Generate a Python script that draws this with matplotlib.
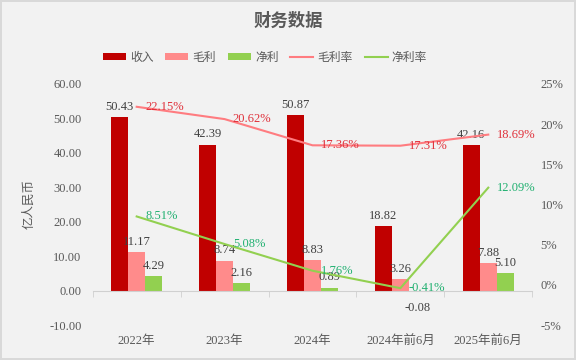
import matplotlib.pyplot as plt
import numpy as np

plt.rcParams['font.family'] = ['Liberation Serif', 'Noto Sans CJK SC']

# data
categories = ['2022年', '2023年', '2024年', '2024年前6月', '2025年前6月']
revenue = [50.43, 42.39, 50.87, 18.82, 42.16]
gross_profit = [11.17, 8.74, 8.83, 3.26, 7.88]
net_profit = [4.29, 2.16, 0.89, -0.08, 5.10]
gross_margin = [22.15, 20.62, 17.36, 17.31, 18.69]
net_margin = [8.51, 5.08, 1.76, -0.41, 12.09]

grey = '#595959'
c_rev = '#C00000'
c_gross = '#FF8B8B'
c_net = '#92D050'
c_gm = '#FF7C80'
c_nm = '#92D050'

fig = plt.figure(figsize=(5.76, 3.6), dpi=100)
fig.patch.set_facecolor('#F2F2F2')
fig.patch.set_edgecolor('#D9D9D9')
fig.patch.set_linewidth(1.5)

ax = fig.add_axes([0.161, 0.097, 0.763, 0.67])
ax.set_facecolor('#F2F2F2')
ax2 = ax.twinx()

x = np.arange(len(categories))
w = 0.195
b1 = ax.bar(x - w, revenue, w, color=c_rev, label='收入')
b2 = ax.bar(x, gross_profit, w, color=c_gross, label='毛利')
b3 = ax.bar(x + w, net_profit, w, color=c_net, label='净利')

for bars, vals in [(b1, revenue), (b2, gross_profit), (b3, net_profit)]:
    for rect, v in zip(bars, vals):
        cx = rect.get_x() + rect.get_width() / 2
        if v >= 0:
            ax.annotate(f'{v:.2f}', (cx, v), xytext=(0, 3), textcoords='offset points',
                        ha='center', va='bottom', fontsize=9, color='#404040')
        else:
            ax.annotate(f'{v:.2f}', (cx, v), xytext=(0, -8), textcoords='offset points',
                        ha='center', va='top', fontsize=9, color='#404040')

ax.set_xlim(-0.5, len(categories) - 0.5)
ax.set_ylim(-10, 60)
ax.set_yticks(np.arange(-10, 61, 10))
ax.set_yticklabels([f'{v:.2f}' for v in np.arange(-10, 61, 10)])
ax.tick_params(axis='y', length=0, labelsize=9, labelcolor=grey, pad=8)
ax.set_ylabel('亿人民币', rotation=90, color=grey, fontsize=9, labelpad=10)

for s in ['top', 'right', 'left']:
    ax.spines[s].set_visible(False)
ax.spines['bottom'].set_position(('data', 0))
ax.spines['bottom'].set_color('#D0D0D0')
ax.set_xticks(x, [''] * len(x))
ax.set_xticks(np.arange(len(categories) + 1) - 0.5, minor=True)
ax.tick_params(axis='x', which='major', length=0)
ax.tick_params(axis='x', which='minor', length=4, color='#D0D0D0')

sec = ax.secondary_xaxis(location=0)
sec.set_xticks(x, categories)
sec.tick_params(length=0, labelsize=9, labelcolor=grey, pad=7)
sec.spines['bottom'].set_visible(False)

l1, = ax2.plot(x, gross_margin, color=c_gm, lw=1.5, label='毛利率')
l2, = ax2.plot(x, net_margin, color=c_nm, lw=1.5, label='净利率')
for xi, v in zip(x, gross_margin):
    ax2.annotate(f'{v:.2f}%', (xi, v), xytext=(6, 0), textcoords='offset points',
                 ha='left', va='center', fontsize=9, color='#E0303A')
for xi, v in zip(x, net_margin):
    ax2.annotate(f'{v:.2f}%', (xi, v), xytext=(6, 0), textcoords='offset points',
                 ha='left', va='center', fontsize=9, color='#20B070')

ax2.set_ylim(-5, 25)
ax2.set_yticks(np.arange(-5, 26, 5))
ax2.set_yticklabels([f'{v}%' for v in np.arange(-5, 26, 5)])
ax2.tick_params(axis='y', length=0, labelsize=9, labelcolor=grey, pad=6)
for s in ax2.spines.values():
    s.set_visible(False)

fig.text(0.5, 0.94, '财务数据', ha='center', va='center', fontsize=12.5,
         fontweight='bold', color=grey)
fig.legend(handles=[b1, b2, b3, l1, l2], loc='center', bbox_to_anchor=(0.46, 0.84),
           ncol=5, frameon=False, fontsize=8.5, labelcolor=grey,
           handlelength=1.95, handleheight=0.6, columnspacing=1.0, handletextpad=0.35)

fig.savefig('out.png', dpi=100, facecolor=fig.get_facecolor(), edgecolor=fig.get_edgecolor())
